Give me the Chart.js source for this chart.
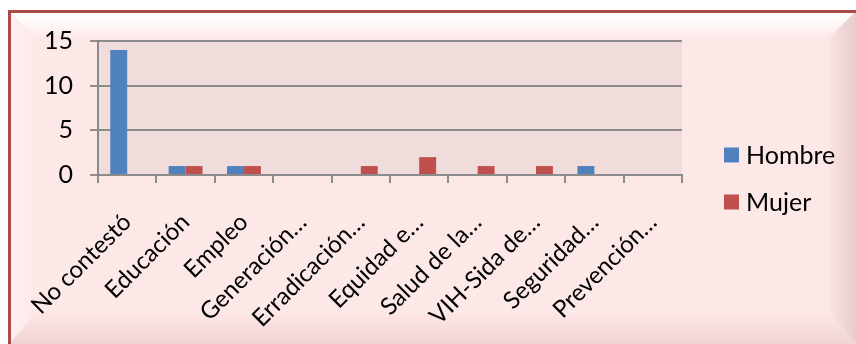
<!DOCTYPE html>
<html>
<head>
<meta charset="utf-8">
<script src="https://cdn.jsdelivr.net/npm/chart.js@4.4.1/dist/chart.umd.min.js"></script>
<style>
  html, body { margin: 0; padding: 0; background: #ffffff; }
  #wrap { width: 856px; height: 344px; position: relative; }
</style>
</head>
<body>
<div id="wrap"><canvas id="c" width="856" height="344"></canvas></div>
<script>
// Categories (long names shortened with an ellipsis, as on the axis)
const categories = ['No contestó', 'Educación', 'Empleo', 'Generación…', 'Erradicación…',
                    'Equidad e…', 'Salud de la…', 'VIH-Sida de…', 'Seguridad…', 'Prevención…'];
const seriesNames = ['Hombre', 'Mujer'];
const hombre = [14, 1, 1, 0, 0, 0, 0, 0, 1, 0];
const mujer  = [0, 1, 1, 0, 1, 2, 1, 1, 0, 0];
const yTicks = [0, 5, 10, 15];

const FONT = 'Lato';
const GRID = '#8c8c8c';

// Bevelled pink frame behind the chart and the tinted plot area
const framePlugin = {
  id: 'frame',
  beforeDraw(chart) {
    const ctx = chart.ctx, W = chart.width, H = chart.height;
    const x0 = 9, y0 = 11, b = 26;
    ctx.save();
    ctx.fillStyle = '#ffffff';
    ctx.fillRect(0, 0, W, H);
    ctx.fillStyle = '#fde8e8';
    ctx.fillRect(x0, y0, W - x0, H - y0);

    const poly = (pts, fill) => {
      ctx.beginPath();
      ctx.moveTo(pts[0][0], pts[0][1]);
      for (let i = 1; i < pts.length; i++) ctx.lineTo(pts[i][0], pts[i][1]);
      ctx.closePath();
      ctx.fillStyle = fill;
      ctx.fill();
    };
    // top band
    let g = ctx.createLinearGradient(0, y0, 0, y0 + b);
    g.addColorStop(0, '#ffffff'); g.addColorStop(0.55, '#fff8f8'); g.addColorStop(1, '#fde8e8');
    poly([[x0, y0], [W, y0], [W - b, y0 + b], [x0 + b, y0 + b]], g);
    // left band
    g = ctx.createLinearGradient(x0, 0, x0 + b, 0);
    g.addColorStop(0, '#fff0f0'); g.addColorStop(1, '#fde8e8');
    poly([[x0, y0], [x0 + b, y0 + b], [x0 + b, H - b - 4], [x0, H]], g);
    // right band
    g = ctx.createLinearGradient(W - b, 0, W, 0);
    g.addColorStop(0, '#fbe3e3'); g.addColorStop(1, '#e6cbcc');
    poly([[W, y0], [W, H], [W - b, H - b - 4], [W - b, y0 + b]], g);
    // bottom band
    g = ctx.createLinearGradient(0, H - b - 4, 0, H);
    g.addColorStop(0, '#fde6e6'); g.addColorStop(1, '#f1d4d5');
    poly([[x0, H], [W, H], [W - b, H - b - 4], [x0 + b, H - b - 4]], g);

    // dark red outline
    ctx.fillStyle = '#a94c4a';
    ctx.fillRect(x0 - 1, y0 - 1, W - x0 + 1, 3);
    ctx.fillRect(x0 - 1, y0 - 1, 3, H - y0 + 1);

    // plot area tint
    const a = chart.chartArea;
    ctx.fillStyle = '#f1dcdc';
    ctx.fillRect(a.left, a.top, a.right - a.left, a.bottom - a.top);
    ctx.restore();
  }
};

// Legend on the right, drawn from the datasets
const sideLegend = {
  id: 'sideLegend',
  afterDraw(chart) {
    const ctx = chart.ctx;
    const x = 724, y = 155, gap = 47, box = 15;
    ctx.save();
    ctx.font = '25px ' + FONT;
    ctx.textBaseline = 'middle';
    ctx.textAlign = 'left';
    chart.data.datasets.forEach((ds, i) => {
      const cy = y + i * gap;
      ctx.fillStyle = ds.backgroundColor;
      ctx.fillRect(x, cy - box / 2, box, box);
      ctx.fillStyle = '#000000';
      ctx.fillText(ds.label, x + box + 7, cy + 1);
    });
    ctx.restore();
  }
};

function build() {
  new Chart(document.getElementById('c'), {
    type: 'bar',
    data: {
      labels: categories,
      datasets: [
        { label: seriesNames[0], data: hombre, backgroundColor: '#4f81bd' },
        { label: seriesNames[1], data: mujer, backgroundColor: '#c0504d' }
      ]
    },
    options: {
      responsive: false,
      animation: false,
      events: [],
      layout: { padding: { top: 41, right: 174, left: 0, bottom: 0 } },
      datasets: { bar: { categoryPercentage: 0.58, barPercentage: 1.0 } },
      plugins: { legend: { display: false }, tooltip: { enabled: false } },
      scales: {
        x: {
          offset: true,
          grid: { offset: true, drawOnChartArea: false, drawTicks: true, tickLength: 8, color: GRID, lineWidth: 2 },
          border: { display: true, color: GRID, width: 2 },
          ticks: {
            autoSkip: false, maxRotation: 45, minRotation: 45,
            color: '#000000', font: { family: FONT, size: 24 }, padding: 25
          },
          afterFit(scale) { scale.height = 169; }
        },
        y: {
          min: 0, max: 15,
          afterBuildTicks(scale) { scale.ticks = yTicks.map(v => ({ value: v })); },
          grid: { color: GRID, lineWidth: 2, tickLength: 8 },
          border: { display: true, color: GRID, width: 2 },
          ticks: { color: '#000000', font: { family: FONT, size: 25 }, padding: 17 },
          afterFit(scale) { scale.width = 98; }
        }
      }
    },
    plugins: [framePlugin, sideLegend]
  });
}

if (document.fonts && document.fonts.load) {
  document.fonts.load('22px ' + FONT).then(build, build);
} else {
  build();
}
</script>
</body>
</html>
